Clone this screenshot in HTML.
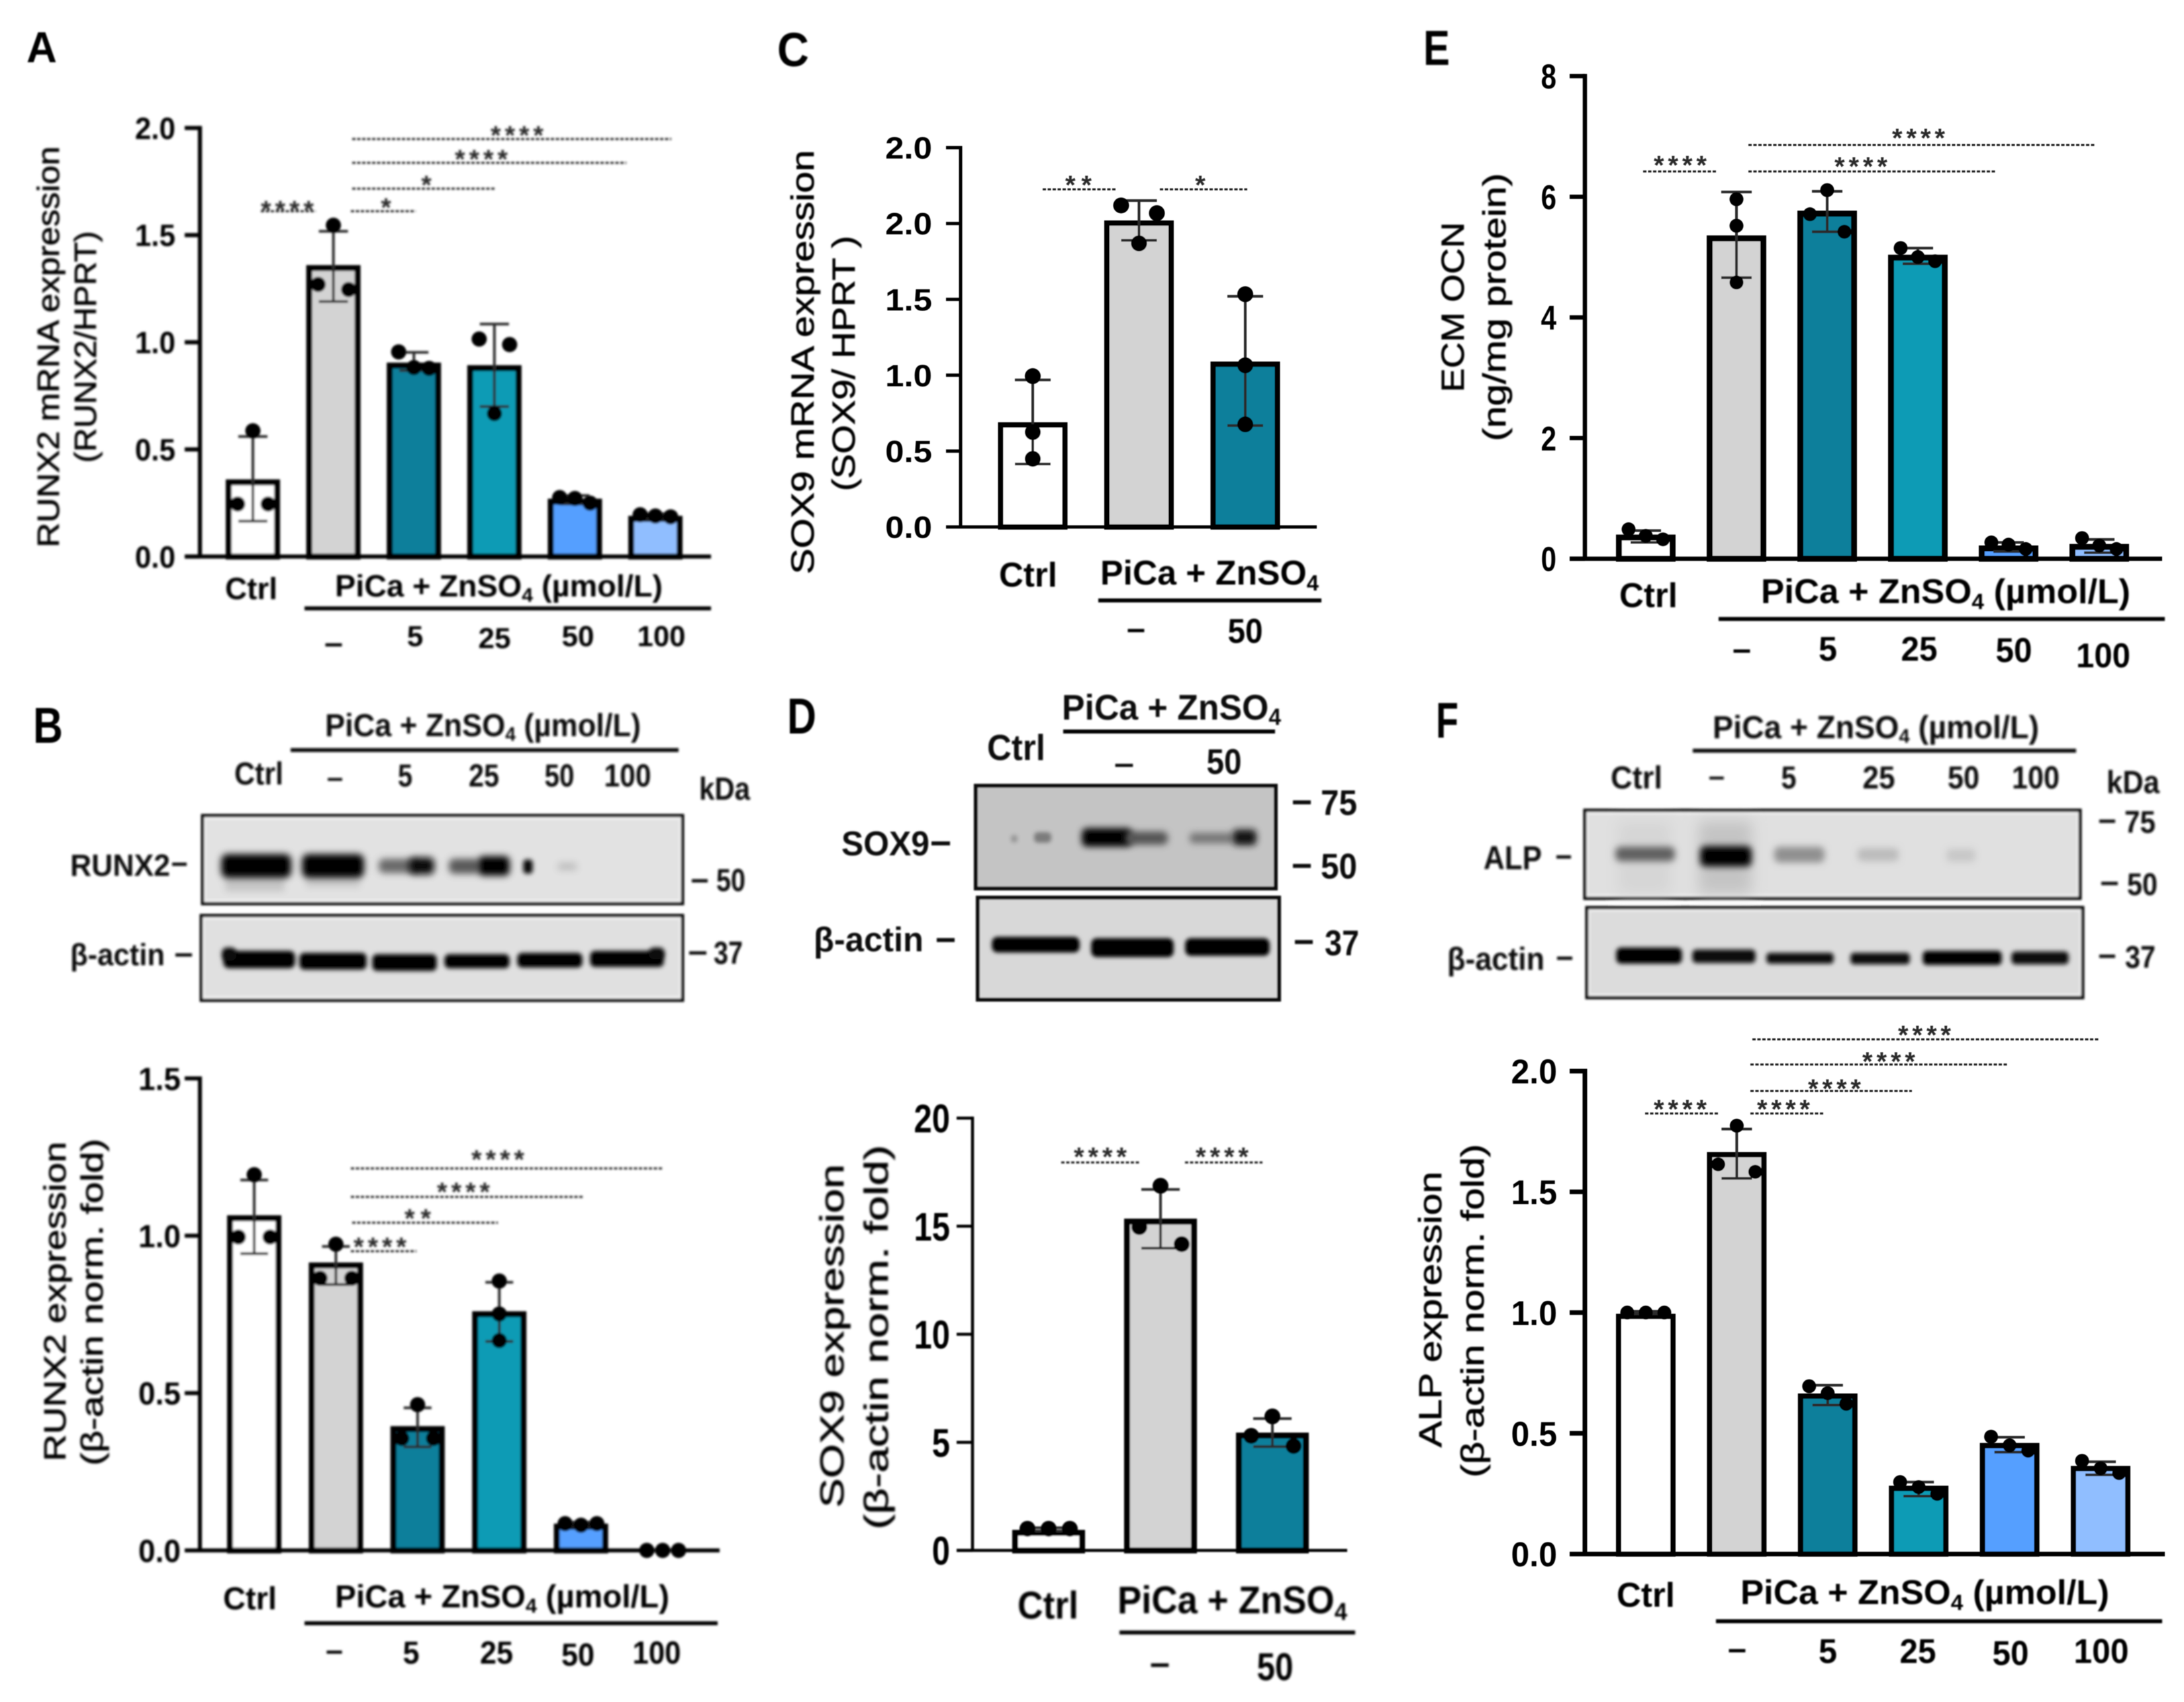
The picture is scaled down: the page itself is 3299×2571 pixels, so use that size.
<!DOCTYPE html>
<html lang="en">
<head>
<meta charset="utf-8">
<title>RUNX2, SOX9, OCN and ALP expression panels</title>
<style>
html,body{margin:0;padding:0;background:#fff}
svg{display:block}
text{font-family:"Liberation Sans",Arial,sans-serif;fill:#000}
.b{font-weight:bold}
.t{font-weight:normal;stroke:#000;stroke-width:.7px}
.m{font-weight:bold;fill:#111}
</style>
</head>
<body>
<svg id="figure" xmlns="http://www.w3.org/2000/svg" width="3299" height="2571" viewBox="0 0 3299 2571">
<defs>
<filter id="soft" filterUnits="userSpaceOnUse" x="0" y="0" width="3299" height="2571"><feGaussianBlur stdDeviation="1.1"/></filter>
<filter id="soft-heavy" filterUnits="userSpaceOnUse" x="0" y="0" width="3299" height="2571"><feGaussianBlur stdDeviation="1.7"/></filter>
<filter id="soft-light" filterUnits="userSpaceOnUse" x="0" y="0" width="3299" height="2571"><feGaussianBlur stdDeviation="0.6"/></filter>
<filter id="b2" x="-100%" y="-100%" width="300%" height="300%"><feGaussianBlur stdDeviation="3"/></filter>
<filter id="b4" x="-100%" y="-150%" width="300%" height="400%"><feGaussianBlur stdDeviation="5"/></filter>
<filter id="b8" x="-50%" y="-100%" width="200%" height="300%"><feGaussianBlur stdDeviation="10"/></filter>
</defs>
<rect width="3299" height="2571" fill="#fff"/>
<g>

<!-- Panel letters -->
<g filter="url(#soft)">
<text class="b" x="40" y="94" font-size="66" textLength="46" lengthAdjust="spacingAndGlyphs">A</text>
<text class="b" x="50" y="1122" font-size="76" textLength="45" lengthAdjust="spacingAndGlyphs">B</text>
<text class="b" x="1174" y="100" font-size="72" textLength="48" lengthAdjust="spacingAndGlyphs">C</text>
<text class="b" x="1189" y="1108" font-size="76" textLength="44" lengthAdjust="spacingAndGlyphs">D</text>
<text class="b" x="2150" y="98" font-size="74" textLength="40" lengthAdjust="spacingAndGlyphs">E</text>
<text class="b" x="2169" y="1114" font-size="76" textLength="34" lengthAdjust="spacingAndGlyphs">F</text>
</g>

<!-- Panel A labels -->
<g filter="url(#soft-heavy)">
<text class="t" transform="translate(89,524) rotate(-90)" text-anchor="middle" font-size="46" textLength="606" lengthAdjust="spacingAndGlyphs">RUNX2 mRNA  expression</text>
<text class="t" transform="translate(145,524) rotate(-90)" text-anchor="middle" font-size="46" textLength="350" lengthAdjust="spacingAndGlyphs">(RUNX2/HPRT)</text>
<text class="b" x="340" y="905" font-size="46" textLength="79" lengthAdjust="spacingAndGlyphs">Ctrl</text>
<text class="b" x="506" y="901" font-size="46" textLength="495" lengthAdjust="spacingAndGlyphs">PiCa + ZnSO<tspan font-size="30" dy="8">4</tspan><tspan dy="-8">  (µmol/L)</tspan></text>
<rect x="460" y="916" width="614" height="6" fill="#000"/>
<text class="b" x="504" y="987" text-anchor="middle" font-size="48" textLength="28" lengthAdjust="spacingAndGlyphs">–</text>
<text class="b" x="627" y="976" text-anchor="middle" font-size="44">5</text>
<text class="b" x="747" y="979" text-anchor="middle" font-size="44">25</text>
<text class="b" x="873" y="976" text-anchor="middle" font-size="44">50</text>
<text class="b" x="999" y="976" text-anchor="middle" font-size="44" textLength="73" lengthAdjust="spacingAndGlyphs">100</text>
</g>

<!-- Panel B blot -->
<g filter="url(#soft-heavy)">
<text class="m" x="491" y="1112" font-size="48" textLength="477" lengthAdjust="spacingAndGlyphs">PiCa + ZnSO<tspan font-size="30" dy="7">4</tspan><tspan dy="-7"> (µmol/L)</tspan></text>
<rect x="439" y="1130" width="586" height="6" fill="#111"/>
<text class="m" x="354" y="1185" font-size="48" textLength="74" lengthAdjust="spacingAndGlyphs">Ctrl</text>
<text class="m" x="506" y="1189" text-anchor="middle" font-size="44">–</text>
<text class="m" x="612" y="1188" text-anchor="middle" font-size="48" textLength="22" lengthAdjust="spacingAndGlyphs">5</text>
<text class="m" x="731" y="1188" text-anchor="middle" font-size="48" textLength="46" lengthAdjust="spacingAndGlyphs">25</text>
<text class="m" x="845" y="1188" text-anchor="middle" font-size="48" textLength="45" lengthAdjust="spacingAndGlyphs">50</text>
<text class="m" x="948" y="1188" text-anchor="middle" font-size="48" textLength="71" lengthAdjust="spacingAndGlyphs">100</text>
<text class="m" x="1056" y="1208" font-size="48" textLength="77" lengthAdjust="spacingAndGlyphs">kDa</text>
<rect x="306" y="1232" width="725" height="133" fill="#e2e2e2" stroke="#111" stroke-width="5"/>
<rect x="310" y="1237" width="717" height="123" fill="none" stroke="#f0f0f0" stroke-width="3"/>
<g>
<rect x="340" y="1320" width="90" height="26" fill="#c4c4c4" filter="url(#b4)"/>
<rect x="462" y="1320" width="82" height="20" fill="#c8c8c8" filter="url(#b4)"/>
<rect x="334" y="1290" width="106" height="36" rx="10" fill="#000" filter="url(#b4)"/>
<rect x="456" y="1290" width="94" height="36" rx="10" fill="#000" filter="url(#b4)"/>
<rect x="572" y="1297" width="60" height="22" rx="8" fill="#6a6a6a" filter="url(#b4)"/>
<rect x="618" y="1295" width="38" height="26" rx="8" fill="#111" filter="url(#b4)"/>
<rect x="678" y="1297" width="46" height="23" rx="8" fill="#5a5a5a" filter="url(#b4)"/>
<rect x="722" y="1293" width="48" height="30" rx="8" fill="#000" filter="url(#b4)"/>
<rect x="790" y="1298" width="15" height="22" rx="6" fill="#111" filter="url(#b2)"/>
<rect x="842" y="1303" width="30" height="12" rx="6" fill="#c0c0c0" filter="url(#b4)"/>
</g>
<rect x="304" y="1383" width="727" height="128" fill="#e0e0e0" stroke="#111" stroke-width="5"/>
<rect x="308" y="1388" width="719" height="118" fill="none" stroke="#efefef" stroke-width="3"/>
<g>
<rect x="337" y="1436" width="109" height="27" rx="9" fill="#000" filter="url(#b2)"/>
<rect x="452" y="1439" width="102" height="26" rx="8" fill="#000" filter="url(#b2)"/>
<rect x="562" y="1441" width="98" height="26" rx="8" fill="#000" filter="url(#b2)"/>
<rect x="671" y="1441" width="99" height="22" rx="8" fill="#000" filter="url(#b2)"/>
<rect x="781" y="1439" width="99" height="23" rx="8" fill="#000" filter="url(#b2)"/>
<rect x="891" y="1436" width="112" height="25" rx="8" fill="#000" filter="url(#b2)"/>
<rect x="335" y="1431" width="22" height="20" rx="8" fill="#111" filter="url(#b2)"/>
<rect x="980" y="1431" width="24" height="18" rx="8" fill="#111" filter="url(#b2)"/>
</g>
<text class="m" x="106" y="1323" font-size="46" textLength="151" lengthAdjust="spacingAndGlyphs">RUNX2</text>
<rect x="260" y="1303" width="22" height="5" fill="#111"/>
<text class="m" x="106" y="1458" font-size="46" textLength="143" lengthAdjust="spacingAndGlyphs">β-actin</text>
<rect x="265" y="1440" width="25" height="5" fill="#111"/>
<rect x="1045" y="1328" width="24" height="5" fill="#111"/>
<text class="m" x="1082" y="1346" font-size="48" textLength="44" lengthAdjust="spacingAndGlyphs">50</text>
<rect x="1041" y="1437" width="26" height="5" fill="#111"/>
<text class="m" x="1078" y="1456" font-size="48" textLength="44" lengthAdjust="spacingAndGlyphs">37</text>
</g>

<!-- Panel B chart labels -->
<g filter="url(#soft-heavy)">
<text class="t" transform="translate(99,1966) rotate(-90)" text-anchor="middle" font-size="46" textLength="483" lengthAdjust="spacingAndGlyphs">RUNX2 expression</text>
<text class="t" transform="translate(155,1967) rotate(-90)" text-anchor="middle" font-size="46" textLength="494" lengthAdjust="spacingAndGlyphs">(β-actin norm. fold)</text>
<text class="b" x="337" y="2431" font-size="48" textLength="81" lengthAdjust="spacingAndGlyphs">Ctrl</text>
<text class="b" x="506" y="2428" font-size="48" textLength="505" lengthAdjust="spacingAndGlyphs">PiCa + ZnSO<tspan font-size="31" dy="8">4</tspan><tspan dy="-8">  (µmol/L)</tspan></text>
<rect x="460" y="2449" width="624" height="6" fill="#000"/>
<text class="b" x="505" y="2508" text-anchor="middle" font-size="46" textLength="26" lengthAdjust="spacingAndGlyphs">–</text>
<text class="b" x="621" y="2513" text-anchor="middle" font-size="48" textLength="25" lengthAdjust="spacingAndGlyphs">5</text>
<text class="b" x="750" y="2513" text-anchor="middle" font-size="48" textLength="50" lengthAdjust="spacingAndGlyphs">25</text>
<text class="b" x="873" y="2516" text-anchor="middle" font-size="48" textLength="50" lengthAdjust="spacingAndGlyphs">50</text>
<text class="b" x="992" y="2513" text-anchor="middle" font-size="48" textLength="73" lengthAdjust="spacingAndGlyphs">100</text>
</g>

<!-- Panel C labels -->
<g filter="url(#soft)">
<text class="t" transform="translate(1229,547) rotate(-90)" text-anchor="middle" font-size="48" textLength="641" lengthAdjust="spacingAndGlyphs">SOX9 mRNA  expression</text>
<text class="t" transform="translate(1291,549) rotate(-90)" text-anchor="middle" font-size="48" textLength="386" lengthAdjust="spacingAndGlyphs">(SOX9/ HPRT )</text>
<text class="b" x="1509" y="886" font-size="52" textLength="88" lengthAdjust="spacingAndGlyphs">Ctrl</text>
<text class="b" x="1662" y="883" font-size="52" textLength="330" lengthAdjust="spacingAndGlyphs">PiCa  + ZnSO<tspan font-size="33" dy="9">4</tspan></text>
<rect x="1659" y="904" width="337" height="6" fill="#000"/>
<text class="b" x="1716" y="966" text-anchor="middle" font-size="50" textLength="28" lengthAdjust="spacingAndGlyphs">–</text>
<text class="b" x="1881" y="971" text-anchor="middle" font-size="52" textLength="53" lengthAdjust="spacingAndGlyphs">50</text>
</g>

<!-- Panel D blot -->
<g filter="url(#soft)">
<text class="m" x="1604" y="1087" font-size="54" textLength="331" lengthAdjust="spacingAndGlyphs">PiCa + ZnSO<tspan font-size="35" dy="8">4</tspan></text>
<rect x="1606" y="1102" width="320" height="6" fill="#000"/>
<text class="m" x="1491" y="1148" font-size="55" textLength="88" lengthAdjust="spacingAndGlyphs">Ctrl</text>
<text class="m" x="1698" y="1169" text-anchor="middle" font-size="48" textLength="30" lengthAdjust="spacingAndGlyphs">–</text>
<text class="m" x="1849" y="1169" text-anchor="middle" font-size="54" textLength="53" lengthAdjust="spacingAndGlyphs">50</text>
<rect x="1474" y="1187" width="453" height="155" fill="#c4c4c4" stroke="#0a0a0a" stroke-width="6"/>
<g>
<rect x="1527" y="1261" width="10" height="12" rx="4" fill="#999" filter="url(#b2)"/>
<rect x="1562" y="1257" width="26" height="16" rx="6" fill="#7c7c7c" filter="url(#b2)"/>
<rect x="1634" y="1251" width="76" height="28" rx="8" fill="#000" filter="url(#b4)"/>
<rect x="1700" y="1256" width="64" height="20" rx="8" fill="#555" filter="url(#b4)"/>
<rect x="1797" y="1258" width="66" height="16" rx="6" fill="#777" filter="url(#b4)"/>
<rect x="1862" y="1253" width="36" height="24" rx="7" fill="#181818" filter="url(#b4)"/>
</g>
<rect x="1477" y="1356" width="455" height="154" fill="#d8d8d8" stroke="#0a0a0a" stroke-width="6"/>
<g>
<rect x="1498" y="1415" width="133" height="24" rx="9" fill="#000" filter="url(#b2)"/>
<rect x="1648" y="1417" width="125" height="29" rx="9" fill="#000" filter="url(#b2)"/>
<rect x="1790" y="1417" width="128" height="27" rx="9" fill="#000" filter="url(#b2)"/>
</g>
<text class="m" x="1271" y="1292" font-size="52" textLength="133" lengthAdjust="spacingAndGlyphs">SOX9</text>
<rect x="1407" y="1271" width="28" height="6" fill="#111"/>
<text class="m" x="1229" y="1437" font-size="52" textLength="166" lengthAdjust="spacingAndGlyphs">β-actin</text>
<rect x="1415" y="1417" width="27" height="6" fill="#111"/>
<rect x="1953" y="1209" width="27" height="6" fill="#111"/>
<text class="m" x="1995" y="1231" font-size="54" textLength="55" lengthAdjust="spacingAndGlyphs">75</text>
<rect x="1953" y="1305" width="27" height="6" fill="#111"/>
<text class="m" x="1995" y="1327" font-size="54" textLength="55" lengthAdjust="spacingAndGlyphs">50</text>
<rect x="1956" y="1420" width="27" height="6" fill="#111"/>
<text class="m" x="2001" y="1443" font-size="54" textLength="52" lengthAdjust="spacingAndGlyphs">37</text>
</g>

<!-- Panel D chart labels -->
<g filter="url(#soft-heavy)">
<text class="t" transform="translate(1274,2018) rotate(-90)" text-anchor="middle" font-size="50" textLength="519" lengthAdjust="spacingAndGlyphs">SOX9 expression</text>
<text class="t" transform="translate(1341,2020) rotate(-90)" text-anchor="middle" font-size="50" textLength="581" lengthAdjust="spacingAndGlyphs">(β-actin norm. fold)</text>
<text class="b" x="1537" y="2445" font-size="58" textLength="92" lengthAdjust="spacingAndGlyphs">Ctrl</text>
<text class="b" x="1688" y="2437" font-size="58" textLength="347" lengthAdjust="spacingAndGlyphs">PiCa  + ZnSO<tspan font-size="37" dy="10">4</tspan></text>
<rect x="1691" y="2463" width="356" height="6" fill="#000"/>
<text class="b" x="1752" y="2530" text-anchor="middle" font-size="54" textLength="30" lengthAdjust="spacingAndGlyphs">–</text>
<text class="b" x="1926" y="2538" text-anchor="middle" font-size="58" textLength="55" lengthAdjust="spacingAndGlyphs">50</text>
</g>

<!-- Panel E labels -->
<g filter="url(#soft)">
<text class="t" transform="translate(2211,464) rotate(-90)" text-anchor="middle" font-size="48" textLength="257" lengthAdjust="spacingAndGlyphs">ECM OCN</text>
<text class="t" transform="translate(2274,464) rotate(-90)" text-anchor="middle" font-size="48" textLength="405" lengthAdjust="spacingAndGlyphs">(ng/mg protein)</text>
<text class="b" x="2446" y="917" font-size="52" textLength="88" lengthAdjust="spacingAndGlyphs">Ctrl</text>
<text class="b" x="2660" y="911" font-size="52" textLength="558" lengthAdjust="spacingAndGlyphs">PiCa + ZnSO<tspan font-size="33" dy="9">4</tspan><tspan dy="-9">  (µmol/L)</tspan></text>
<rect x="2596" y="932" width="674" height="6" fill="#000"/>
<text class="b" x="2631" y="997" text-anchor="middle" font-size="50" textLength="28" lengthAdjust="spacingAndGlyphs">–</text>
<text class="b" x="2761" y="998" text-anchor="middle" font-size="52" textLength="28" lengthAdjust="spacingAndGlyphs">5</text>
<text class="b" x="2899" y="998" text-anchor="middle" font-size="52" textLength="55" lengthAdjust="spacingAndGlyphs">25</text>
<text class="b" x="3042" y="1000" text-anchor="middle" font-size="52" textLength="55" lengthAdjust="spacingAndGlyphs">50</text>
<text class="b" x="3177" y="1008" text-anchor="middle" font-size="52" textLength="82" lengthAdjust="spacingAndGlyphs">100</text>
</g>

<!-- Panel F blot -->
<g filter="url(#soft-heavy)">
<text class="m" x="2587" y="1115" font-size="48" textLength="493" lengthAdjust="spacingAndGlyphs">PiCa + ZnSO<tspan font-size="30" dy="7">4</tspan><tspan dy="-7"> (µmol/L)</tspan></text>
<rect x="2557" y="1131" width="579" height="6" fill="#111"/>
<text class="m" x="2433" y="1191" font-size="48" textLength="78" lengthAdjust="spacingAndGlyphs">Ctrl</text>
<text class="m" x="2593" y="1187" text-anchor="middle" font-size="44">–</text>
<text class="m" x="2702" y="1191" text-anchor="middle" font-size="48" textLength="23" lengthAdjust="spacingAndGlyphs">5</text>
<text class="m" x="2838" y="1191" text-anchor="middle" font-size="48" textLength="49" lengthAdjust="spacingAndGlyphs">25</text>
<text class="m" x="2966" y="1191" text-anchor="middle" font-size="48" textLength="48" lengthAdjust="spacingAndGlyphs">50</text>
<text class="m" x="3075" y="1191" text-anchor="middle" font-size="48" textLength="72" lengthAdjust="spacingAndGlyphs">100</text>
<text class="m" x="3182" y="1198" font-size="48" textLength="80" lengthAdjust="spacingAndGlyphs">kDa</text>
<rect x="2394" y="1224" width="748" height="133" fill="#e0e0e0" stroke="#111" stroke-width="5"/>
<rect x="2398" y="1229" width="740" height="123" fill="none" stroke="#ececec" stroke-width="3"/>
<g>
<rect x="2444" y="1240" width="80" height="110" fill="#d6d6d6" filter="url(#b8)"/>
<rect x="2566" y="1240" width="80" height="110" fill="#c4c4c4" filter="url(#b8)"/>
<rect x="2440" y="1279" width="90" height="22" rx="8" fill="#606060" filter="url(#b4)"/>
<rect x="2568" y="1278" width="78" height="31" rx="8" fill="#000" filter="url(#b4)"/>
<rect x="2680" y="1279" width="76" height="24" rx="8" fill="#909090" filter="url(#b4)"/>
<rect x="2806" y="1281" width="62" height="20" rx="7" fill="#bcbcbc" filter="url(#b4)"/>
<rect x="2940" y="1282" width="44" height="20" rx="7" fill="#c8c8c8" filter="url(#b4)"/>
</g>
<rect x="2397" y="1371" width="749" height="136" fill="#dcdcdc" stroke="#111" stroke-width="5"/>
<rect x="2401" y="1376" width="741" height="126" fill="none" stroke="#ececec" stroke-width="3"/>
<g>
<rect x="2441" y="1431" width="100" height="25" rx="8" fill="#000" filter="url(#b2)"/>
<rect x="2556" y="1434" width="96" height="21" rx="7" fill="#0a0a0a" filter="url(#b2)"/>
<rect x="2668" y="1439" width="102" height="17" rx="6" fill="#0a0a0a" filter="url(#b2)"/>
<rect x="2795" y="1439" width="90" height="18" rx="6" fill="#0a0a0a" filter="url(#b2)"/>
<rect x="2904" y="1436" width="120" height="22" rx="7" fill="#000" filter="url(#b2)"/>
<rect x="3038" y="1437" width="87" height="20" rx="7" fill="#0a0a0a" filter="url(#b2)"/>
</g>
<text class="m" x="2241" y="1313" font-size="50" textLength="88" lengthAdjust="spacingAndGlyphs">ALP</text>
<rect x="2351" y="1292" width="22" height="5" fill="#111"/>
<text class="m" x="2186" y="1465" font-size="48" textLength="147" lengthAdjust="spacingAndGlyphs">β-actin</text>
<rect x="2352" y="1445" width="23" height="5" fill="#111"/>
<rect x="3171" y="1238" width="24" height="5" fill="#111"/>
<text class="m" x="3209" y="1258" font-size="47" textLength="47" lengthAdjust="spacingAndGlyphs">75</text>
<rect x="3174" y="1332" width="25" height="5" fill="#111"/>
<text class="m" x="3213" y="1352" font-size="47" textLength="46" lengthAdjust="spacingAndGlyphs">50</text>
<rect x="3171" y="1442" width="24" height="5" fill="#111"/>
<text class="m" x="3210" y="1462" font-size="47" textLength="46" lengthAdjust="spacingAndGlyphs">37</text>
</g>

<!-- Panel F chart labels -->
<g filter="url(#soft)">
<text class="t" transform="translate(2177,1978) rotate(-90)" text-anchor="middle" font-size="48" textLength="417" lengthAdjust="spacingAndGlyphs">ALP  expression</text>
<text class="t" transform="translate(2241,1980) rotate(-90)" text-anchor="middle" font-size="48" textLength="504" lengthAdjust="spacingAndGlyphs">(β-actin norm. fold)</text>
<text class="b" x="2442" y="2427" font-size="52" textLength="88" lengthAdjust="spacingAndGlyphs">Ctrl</text>
<text class="b" x="2629" y="2423" font-size="52" textLength="557" lengthAdjust="spacingAndGlyphs">PiCa + ZnSO<tspan font-size="33" dy="9">4</tspan><tspan dy="-9">  (µmol/L)</tspan></text>
<rect x="2592" y="2446" width="674" height="6" fill="#000"/>
<text class="b" x="2624" y="2507" text-anchor="middle" font-size="50" textLength="28" lengthAdjust="spacingAndGlyphs">–</text>
<text class="b" x="2761" y="2512" text-anchor="middle" font-size="52" textLength="28" lengthAdjust="spacingAndGlyphs">5</text>
<text class="b" x="2897" y="2512" text-anchor="middle" font-size="52" textLength="55" lengthAdjust="spacingAndGlyphs">25</text>
<text class="b" x="3037" y="2515" text-anchor="middle" font-size="52" textLength="55" lengthAdjust="spacingAndGlyphs">50</text>
<text class="b" x="3174" y="2512" text-anchor="middle" font-size="52" textLength="83" lengthAdjust="spacingAndGlyphs">100</text>
</g>

<g id="chart-a" filter="url(#soft-heavy)"></g>
<g id="chart-b" filter="url(#soft-heavy)"></g>
<g id="chart-c" filter="url(#soft-light)"></g>
<g id="chart-d" filter="url(#soft)"></g>
<g id="chart-e" filter="url(#soft-light)"></g>
<g id="chart-f" filter="url(#soft-light)"></g>
</g>
</svg>

<script>
// ---- Shared categories ----
const sixCategories = ['Ctrl', 'PiCa+ZnSO4', '5', '25', '50', '100'];
const threeCategories = ['Ctrl', 'PiCa+ZnSO4', '50'];

// ---- Panel A: RUNX2 mRNA ----
const aTickValues = [0, 0.5, 1, 1.5, 2];
const aTickLabels = ['0.0', '0.5', '1.0', '1.5', '2.0'];
const aMeans = [0.36, 1.36, 0.905, 0.893, 0.27, 0.19];
const aErrLow = [0.165, 1.19, 0.868, 0.70, 0.245, 0.175];
const aErrHigh = [0.56, 1.518, 0.953, 1.085, 0.285, 0.20];
const aReplicates = [[0.245, 0.587, 0.245], [1.27, 1.546, 1.246], [0.955, 0.882, 0.878], [1.015, 0.667, 0.989], [0.275, 0.271, 0.249], [0.195, 0.189, 0.185]];

// ---- Panel B: RUNX2 protein ----
const bTickValues = [0, 0.5, 1, 1.5];
const bTickLabels = ['0.0', '0.5', '1.0', '1.5'];
const bMeans = [1.065, 0.915, 0.395, 0.76, 0.085, 0];
const bErrLow = [0.943, 0.845, 0.329, 0.664, 0.075, 0];
const bErrHigh = [1.177, 0.966, 0.453, 0.852, 0.09, 0];
const bReplicates = [[0.996, 1.194, 0.996], [0.865, 0.973, 0.865], [0.356, 0.463, 0.356], [0.856, 0.751, 0.667], [0.085, 0.08, 0.085], [0, 0, 0]];

// ---- Panel C: SOX9 mRNA (the source figure prints 2.0 twice) ----
const cTickValues = [0, 0.5, 1, 1.5, 2, 2.5];
const cTickLabels = ['0.0', '0.5', '1.0', '1.5', '2.0', '2.0'];
const cMeans = [0.69, 2.02, 1.09];
const cErrLow = [0.415, 1.889, 0.668];
const cErrHigh = [0.969, 2.151, 1.52];
const cReplicates = [[0.994, 0.625, 0.449], [2.119, 1.869, 2.068], [1.534, 1.065, 0.676]];

// ---- Panel D: SOX9 protein ----
const dTickValues = [0, 5, 10, 15, 20];
const dTickLabels = ['0', '5', '10', '15', '20'];
const dMeans = [0.95, 15.35, 5.45];
const dErrLow = [0.9, 13.98, 4.8];
const dErrHigh = [1.05, 16.7, 6.1];
const dReplicates = [[1, 1, 1], [14.96, 16.87, 14.17], [5.3, 6.2, 4.83]];

// ---- Panel E: ECM OCN ----
const eTickValues = [0, 2, 4, 6, 8];
const eTickLabels = ['0', '2', '4', '6', '8'];
const eMeans = [0.40, 5.36, 5.77, 5.04, 0.22, 0.245];
const eErrLow = [0.27, 4.66, 5.42, 4.89, 0.12, 0.10];
const eErrHigh = [0.466, 6.08, 6.09, 5.15, 0.27, 0.32];
const eReplicates = [[0.488, 0.379, 0.32], [5.96, 5.52, 4.58], [5.71, 6.11, 5.42], [5.15, 5.0, 4.93], [0.27, 0.233, 0.16], [0.342, 0.218, 0.16]];

// ---- Panel F: ALP protein ----
const fTickValues = [0, 0.5, 1, 1.5, 2];
const fTickLabels = ['0.0', '0.5', '1.0', '1.5', '2.0'];
const fMeans = [0.995, 1.665, 0.665, 0.283, 0.46, 0.365];
const fErrLow = [0.995, 1.556, 0.617, 0.24, 0.422, 0.328];
const fErrHigh = [1.005, 1.76, 0.699, 0.298, 0.484, 0.382];
const fReplicates = [[1, 1, 1], [1.614, 1.774, 1.583], [0.695, 0.666, 0.622], [0.298, 0.277, 0.249], [0.486, 0.45, 0.428], [0.386, 0.355, 0.335]];

const NS = 'http://www.w3.org/2000/svg';
const sixFills = ['#ffffff', '#d3d3d3', '#087f9b', '#0f9bb5', '#559fff', '#90beff'];
const threeFills = ['#ffffff', '#d3d3d3', '#087f9b'];

function make(tag, parent, attrs) {
  const el = document.createElementNS(NS, tag);
  Object.keys(attrs).forEach(function (k) { el.setAttribute(k, attrs[k]); });
  parent.appendChild(el);
  return el;
}

// Labels in reference are slightly condensed/expanded per panel.
function naturalWidth(str) {
  let w = 0;
  for (const ch of str) { w += ch === '.' ? 0.278 : 0.556; }
  return w;
}

// Array order is left, centre, right. Points well separated vertically stack on the centre.
function swarmOffsets(pixelYs, spread) {
  const sorted = pixelYs.slice().sort(function (a, b) { return a - b; });
  const minGap = Math.min(sorted[1] - sorted[0], sorted[2] - sorted[1]);
  return minGap > 38 ? [0, 0, 0] : [-spread, 0, spread];
}

function drawChart(p) {
  const root = document.getElementById(p.id);
  const yScale = function (v) { return p.y0 - (v / p.max) * (p.y0 - p.yTop); };
  const xScale = function (i) { return p.x0 + p.step * i; };

  // Bars
  p.means.forEach(function (mean, i) {
    const top = yScale(mean);
    const height = Math.max(0, p.y0 - top - p.barStroke / 2);
    const bar = make('rect', root, {
      x: xScale(i) - p.barW / 2 + p.barStroke / 2,
      y: top + p.barStroke / 2,
      width: p.barW - p.barStroke,
      height: height,
      fill: p.fills[i],
      stroke: '#000',
      'stroke-width': p.barStroke
    });
    
    
  });

  // Axes
  const yAxis = make('line', root, { x1: p.axisX, x2: p.axisX, y1: p.yTop - p.axisW / 2, y2: p.y0, stroke: '#000', 'stroke-width': p.axisW });
  
  
  const xAxis = make('line', root, { x1: p.tickX, x2: p.xEnd, y1: p.y0, y2: p.y0, stroke: '#000', 'stroke-width': p.axisW });
  
  

  // Ticks and tick labels
  p.tickValues.forEach(function (v, i) {
    const tick = make('line', root, { x1: p.tickX, x2: p.axisX, y1: yScale(v), y2: yScale(v), stroke: '#000', 'stroke-width': p.axisW });
    
    
    const label = make('text', root, {
      x: p.labelX,
      y: yScale(v) + 0.36 * p.tickFont,
      'text-anchor': 'end',
      'font-size': p.tickFont,
      'font-weight': 'bold',
      textLength: naturalWidth(p.tickLabels[i]) * p.tickWidthFont,
      lengthAdjust: 'spacingAndGlyphs'
    });
    label.textContent = p.tickLabels[i];
    
    
  });

  // Error bars
  p.means.forEach(function (_, i) {
    const cx = xScale(i);
    const low = yScale(p.errLow[i]);
    const high = yScale(p.errHigh[i]);
    const stem = make('line', root, { x1: cx, x2: cx, y1: high, y2: low, stroke: '#2a2a2a', 'stroke-width': 4 });
    
    
    const capTop = make('line', root, { x1: cx - p.cap, x2: cx + p.cap, y1: high, y2: high, stroke: '#2a2a2a', 'stroke-width': 4 });
    
    
    const capLow = make('line', root, { x1: cx - p.cap, x2: cx + p.cap, y1: low, y2: low, stroke: '#2a2a2a', 'stroke-width': 4 });
    
    
  });

  // Replicate points
  p.replicates.forEach(function (values, i) {
    const ys = values.map(yScale);
    const offsets = swarmOffsets(ys, p.spread);
    values.forEach(function (_, j) {
      const dot = make('circle', root, { cx: xScale(i) + offsets[j], cy: ys[j], r: p.dotR, fill: '#000' });
      
      
    });
  });

  // Significance annotations
  p.sig.forEach(function (s) {
    const line = make('line', root, { x1: s.from, x2: s.to, y1: s.y, y2: s.y, stroke: '#1a1a1a', 'stroke-width': 3, 'stroke-dasharray': '5 2.5' });
    
    
    const attrs = { x: s.cx, y: s.ly + 23, 'text-anchor': 'middle', 'font-size': 40, 'font-weight': 'bold' };
    if (s.text.length > 1) {
      attrs.textLength = 20 * s.text.length;
      attrs.lengthAdjust = 'spacing';
    }
    const stars = make('text', root, attrs);
    stars.style.fill = '#2a2a2a';
    stars.textContent = s.text;
    
    
  });
}

drawChart({
  id: 'chart-a', categories: sixCategories, fills: sixFills, means: aMeans, errLow: aErrLow, errHigh: aErrHigh, replicates: aReplicates,
  tickValues: aTickValues, tickLabels: aTickLabels, max: 2, y0: 840.7, yTop: 193.3, x0: 382, step: 121.6, barW: 82, barStroke: 9,
  axisX: 302, tickX: 279, xEnd: 1074, axisW: 6.2, labelX: 265, tickFont: 46, tickWidthFont: 44, cap: 22, dotR: 11.5, spread: 23,
  sig: [
    { from: 532, to: 1014, y: 210, cx: 781, ly: 195, text: '****' },
    { from: 532, to: 946, y: 246, cx: 727, ly: 231, text: '****' },
    { from: 532, to: 747, y: 285, cx: 644, ly: 270, text: '*' },
    { from: 530, to: 628, y: 319, cx: 583, ly: 304, text: '*' },
    { from: 394, to: 477, y: 319, cx: 434, ly: 308, text: '****' }
  ]
});

drawChart({
  id: 'chart-b', categories: sixCategories, fills: sixFills, means: bMeans, errLow: bErrLow, errHigh: bErrHigh, replicates: bReplicates,
  tickValues: bTickValues, tickLabels: bTickLabels, max: 1.5, y0: 2342, yTop: 1629, x0: 384, step: 123.4, barW: 82, barStroke: 9,
  axisX: 302, tickX: 279, xEnd: 1087, axisW: 6, labelX: 273, tickFont: 48, tickWidthFont: 46, cap: 21, dotR: 11.5, spread: 24,
  sig: [
    { from: 530, to: 1002, y: 1765, cx: 752, ly: 1742, text: '****' },
    { from: 530, to: 882, y: 1808, cx: 700, ly: 1791, text: '****' },
    { from: 532, to: 752, y: 1847, cx: 631, ly: 1831, text: '**' },
    { from: 530, to: 629, y: 1890, cx: 574, ly: 1874, text: '****' }
  ]
});

drawChart({
  id: 'chart-c', categories: threeCategories, fills: threeFills, means: cMeans, errLow: cErrLow, errHigh: cErrHigh, replicates: cReplicates,
  tickValues: cTickValues, tickLabels: cTickLabels, max: 2.5, y0: 796, yTop: 223, x0: 1560, step: 160.5, barW: 105, barStroke: 8,
  axisX: 1451, tickX: 1429, xEnd: 1989, axisW: 5, labelX: 1408, tickFont: 46, tickWidthFont: 51, cap: 27, dotR: 12, spread: 27,
  sig: [
    { from: 1575, to: 1687, y: 286, cx: 1629, ly: 270, text: '**' },
    { from: 1752, to: 1884, y: 286, cx: 1813, ly: 270, text: '*' }
  ]
});

drawChart({
  id: 'chart-d', categories: threeCategories, fills: threeFills, means: dMeans, errLow: dErrLow, errHigh: dErrHigh, replicates: dReplicates,
  tickValues: dTickValues, tickLabels: dTickLabels, max: 20, y0: 2342, yTop: 1689, x0: 1584, step: 169, barW: 110, barStroke: 9,
  axisX: 1469, tickX: 1445, xEnd: 2035, axisW: 4.5, labelX: 1435, tickFont: 60, tickWidthFont: 49, cap: 29, dotR: 12, spread: 32,
  sig: [
    { from: 1603, to: 1721, y: 1756, cx: 1662, ly: 1738, text: '****' },
    { from: 1790, to: 1907, y: 1756, cx: 1846, ly: 1738, text: '****' }
  ]
});

drawChart({
  id: 'chart-e', categories: sixCategories, fills: sixFills, means: eMeans, errLow: eErrLow, errHigh: eErrHigh, replicates: eReplicates,
  tickValues: eTickValues, tickLabels: eTickLabels, max: 8, y0: 844, yTop: 115, x0: 2486, step: 137, barW: 90, barStroke: 9,
  axisX: 2394, tickX: 2371, xEnd: 3266, axisW: 6.5, labelX: 2351, tickFont: 52, tickWidthFont: 42, cap: 23, dotR: 10.5, spread: 26,
  sig: [
    { from: 2641, to: 3165, y: 219, cx: 2898, ly: 199, text: '****' },
    { from: 2641, to: 3015, y: 259, cx: 2811, ly: 242, text: '****' },
    { from: 2482, to: 2593, y: 259, cx: 2538, ly: 240, text: '****' }
  ]
});

drawChart({
  id: 'chart-f', categories: sixCategories, fills: sixFills, means: fMeans, errLow: fErrLow, errHigh: fErrHigh, replicates: fReplicates,
  tickValues: fTickValues, tickLabels: fTickLabels, max: 2, y0: 2347.5, yTop: 1618, x0: 2486, step: 137.4, barW: 90, barStroke: 8,
  axisX: 2394, tickX: 2371, xEnd: 3270, axisW: 7, labelX: 2352, tickFont: 52, tickWidthFont: 50, cap: 23, dotR: 10.5, spread: 28,
  sig: [
    { from: 2647, to: 3172, y: 1570, cx: 2907, ly: 1554, text: '****' },
    { from: 2644, to: 3034, y: 1608, cx: 2853, ly: 1594, text: '****' },
    { from: 2644, to: 2888, y: 1648, cx: 2771, ly: 1635, text: '****' },
    { from: 2644, to: 2756, y: 1682, cx: 2694, ly: 1666, text: '****' },
    { from: 2485, to: 2597, y: 1682, cx: 2538, ly: 1666, text: '****' }
  ]
});
</script>
</body>
</html>
